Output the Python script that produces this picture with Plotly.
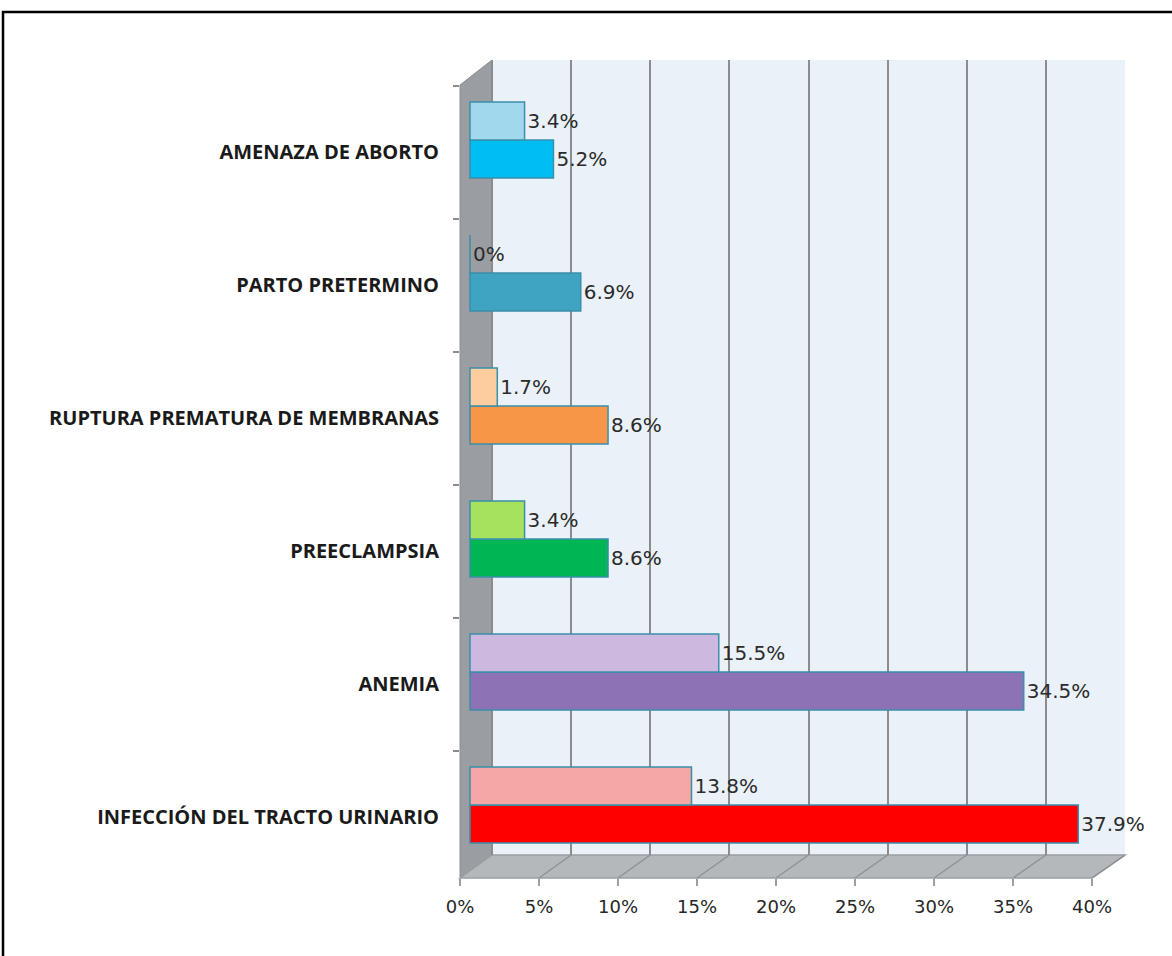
import plotly.graph_objects as go

categories = ["INFECCIÓN DEL TRACTO URINARIO", "ANEMIA", "PREECLAMPSIA",
              "RUPTURA PREMATURA DE MEMBRANAS", "PARTO PRETERMINO", "AMENAZA DE ABORTO"]
serie_oscura = [37.9, 34.5, 8.6, 8.6, 6.9, 5.2]
serie_clara = [13.8, 15.5, 3.4, 1.7, 0, 3.4]
colores_oscuros = ["#FF0000", "#8E72B6", "#00B553", "#F79646", "#3FA3C2", "#00BDF2"]
colores_claros = ["#F4A7A5", "#CDB9DF", "#A6E25E", "#FDCDA0", "#4A9CB4", "#A2D8EE"]
tick_vals = [0, 5, 10, 15, 20, 25, 30, 35, 40]
tick_text = ["0%", "5%", "10%", "15%", "20%", "25%", "30%", "35%", "40%"]

W, H = 1172, 956
# plotting area (pixels)
L, R, T, B = 460, 1125, 60, 878
WALL_BOTTOM = 855
SPAN = R - L
HGT = B - T

def fx(p):
    return (p - L) / SPAN

def fy(p):
    return (B - p) / HGT

ydom0 = fy(WALL_BOTTOM)

# x scales: bars (mid depth), back wall grid, front axis labels
bar_ppu = (1112 - 470) / 40
back_ppu = (1125 - 492) / 40
front_ppu = (1092 - 460) / 40
x_bar_range = [-(470 - L) / bar_ppu, (R - 470) / bar_ppu]
x_back_range = [-(492 - L) / back_ppu, (R - 492) / back_ppu]
x_front_range = [0, (R - L) / front_ppu]

band = 133
y_min = 0 - (WALL_BOTTOM - 805) / band
y_max = y_min + (WALL_BOTTOM - T) / band
lab_shift = 12 / band

def fmt(v):
    return f"{v:g}%"

fig = go.Figure()
for vals, cols in [(serie_oscura, colores_oscuros), (serie_clara, colores_claros)]:
    fig.add_trace(go.Bar(
        y=categories, x=vals, orientation="h",
        marker=dict(color=cols, line=dict(color="#3A8FAA", width=1.5)),
        text=[fmt(v) for v in vals], textposition="outside",
        textfont=dict(family="DejaVu Sans", size=20, color="#2B2B2B"),
        cliponaxis=False, showlegend=False, hoverinfo="skip",
    ))
# empty helper traces so that the label axes are drawn
fig.add_trace(go.Scatter(x=[None], y=[None], xaxis="x3", yaxis="y2", mode="markers",
                         showlegend=False, hoverinfo="skip"))
fig.add_trace(go.Scatter(x=[None], y=[None], xaxis="x2", yaxis="y2", mode="markers",
                         showlegend=False, hoverinfo="skip"))

GRID = "#8C8C8C"
shapes = [
    # outer border
    dict(type="rect", xref="paper", yref="paper", x0=fx(3), x1=fx(1190), y0=fy(12), y1=fy(990),
         line=dict(color="black", width=2.5), fillcolor="rgba(0,0,0,0)", layer="below"),
    # back wall
    dict(type="rect", xref="x2", yref="paper", x0=0, x1=40, y0=ydom0, y1=1,
         fillcolor="#EAF1F8", line=dict(width=0), layer="below"),
    # left wall
    dict(type="path", xref="paper", yref="paper",
         path=f"M {fx(460)} {fy(85)} L {fx(492)} {fy(60)} L {fx(492)} {fy(855)} L {fx(460)} {fy(878)} Z",
         fillcolor="#9A9EA2", line=dict(color="#8A8E92", width=1), layer="below"),
    # floor
    dict(type="path", xref="paper", yref="paper",
         path=f"M {fx(460)} {fy(878)} L {fx(492)} {fy(855)} L {fx(1125)} {fy(855)} L {fx(1092)} {fy(878)} Z",
         fillcolor="#B4B8BB", line=dict(color="#9A9EA2", width=1.5), layer="below"),
]
# floor grid lines (from back wall gridlines to the front axis ticks)
for v in tick_vals[1:]:
    u_front = (460 + front_ppu * v - 492) / back_ppu
    shapes.append(dict(type="line", xref="x2", yref="paper", x0=v, y0=ydom0, x1=u_front, y1=0,
                       line=dict(color="#8E9296", width=1.5), layer="below"))

fig.update_layout(
    width=W, height=H,
    margin=dict(l=L, r=W - R, t=T, b=H - B, pad=0),
    paper_bgcolor="white", plot_bgcolor="rgba(0,0,0,0)",
    barmode="group", bargap=0.43, bargroupgap=0,
    shapes=shapes,
    xaxis=dict(range=x_bar_range, visible=False, domain=[0, 1]),
    xaxis2=dict(overlaying="x", range=x_back_range, tickvals=tick_vals,
                showticklabels=False, showgrid=True, gridcolor=GRID, gridwidth=2,
                zeroline=False, showline=False, ticks=""),
    xaxis3=dict(overlaying="x", anchor="free", position=0, range=x_front_range,
                tickvals=tick_vals, ticktext=tick_text, showgrid=False, zeroline=False,
                showline=False, ticks="outside", ticklen=7, tickwidth=1.5, tickcolor="#9A9EA2",
                ticklabelstandoff=5,
                tickfont=dict(family="DejaVu Sans", size=18, color="#262626")),
    yaxis=dict(type="category", categoryorder="array", categoryarray=categories,
               range=[y_min, y_max], domain=[ydom0, 1], visible=False),
    yaxis2=dict(overlaying="y", range=[y_min + lab_shift, y_max + lab_shift],
                tickvals=list(range(len(categories))), ticktext=categories,
                showgrid=False, zeroline=False, showline=False, ticks="",
                ticklabelstandoff=20,
                minor=dict(tickvals=[i - 0.5 for i in range(len(categories) + 1)],
                           ticks="outside", ticklen=6, tickwidth=1.5, tickcolor="#8C8C8C"),
                tickfont=dict(family="Open Sans", size=20, color="#1A1A1A", weight="bold")),
)

fig.write_html("out.html", config={"displayModeBar": False},
               post_script="document.body.style.margin='0';")
